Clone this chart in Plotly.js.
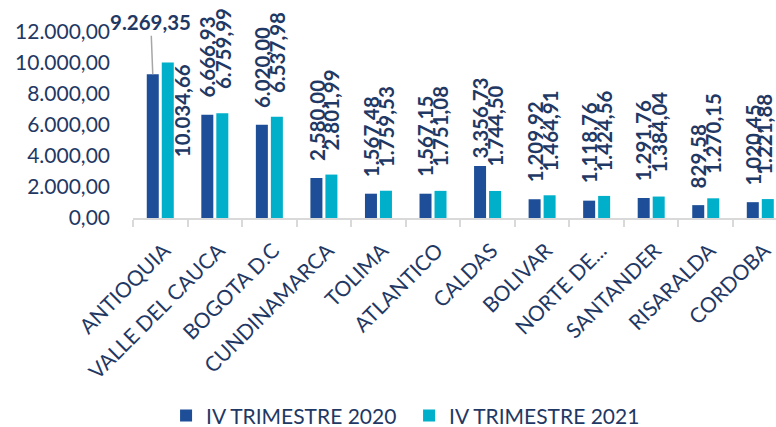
<!DOCTYPE html>
<html><head><meta charset="utf-8">
<script src="https://cdn.plot.ly/plotly-3.0.1.min.js"></script>
<style>html,body{margin:0;padding:0;background:#fff;}#chart{width:776px;height:427px;}</style>
</head><body><div id="chart"></div>
<script>
const categories = ["ANTIOQUIA","VALLE DEL CAUCA","BOGOTA D.C","CUNDINAMARCA","TOLIMA","ATLANTICO","CALDAS","BOLIVAR","NORTE DE...","SANTANDER","RISARALDA","CORDOBA"];
const values2020 = [9269.35,6666.93,6020.00,2580.00,1567.48,1567.15,3356.73,1209.92,1118.76,1291.76,829.58,1020.45];
const values2021 = [10034.66,6759.99,6537.98,2801.99,1759.53,1751.08,1744.50,1464.91,1424.56,1384.04,1270.15,1221.88];
const seriesNames = ["IV TRIMESTRE 2020","IV TRIMESTRE 2021"];
const yTickValues = [0,2000,4000,6000,8000,10000,12000];

const FONT = "Lato, 'Open Sans', sans-serif";
const TXT = "#1F3864";
const C2020 = "#1D4E97";
const C2021 = "#00AFC9";

function fmt(v){
  const p = v.toFixed(2).split(".");
  return p[0].replace(/\B(?=(\d{3})+(?!\d))/g, ".") + "," + p[1];
}

const traces = [
  {type:"bar", name:seriesNames[0], x:categories, y:values2020, marker:{color:C2020}},
  {type:"bar", name:seriesNames[1], x:categories, y:values2021, marker:{color:C2021}}
];

const labelFont = {family:FONT, size:20.5, color:TXT, weight:"bold"};
const annotations = [];
const last = categories.length - 1;
categories.forEach((c,i)=>{
  if(i===0){
    annotations.push({x:c, y:values2020[i], xref:"x", yref:"y", xshift:-7.5,
      text:fmt(values2020[i]), showarrow:true, arrowhead:0, arrowwidth:1.5, arrowcolor:"#A6A6A6",
      ax:-2, ay:-52, font:labelFont});
    annotations.push({x:c, y:values2021[i], xref:"x", yref:"y", xshift:22,
      text:fmt(values2021[i]), showarrow:false, textangle:-90, xanchor:"center", yanchor:"top", font:labelFont});
  } else {
    annotations.push({x:c, y:values2020[i], xref:"x", yref:"y", xshift:-7.5, yshift:(i===6?5:15),
      text:fmt(values2020[i]), showarrow:false, textangle:-90, xanchor:"center", yanchor:"bottom", font:labelFont});
    annotations.push({x:c, y:values2021[i], xref:"x", yref:"y", xshift:(i===last?3:7.5), yshift:22,
      text:fmt(values2021[i]), showarrow:false, textangle:-90, xanchor:"center", yanchor:"bottom", font:labelFont});
  }
});

const layout = {
  width:776, height:427,
  margin:{l:133, r:0, t:10, b:209, pad:0},
  paper_bgcolor:"#fff", plot_bgcolor:"#fff",
  separators:",.",
  font:{family:FONT, color:TXT, size:21},
  barmode:"group", bargap:0.45, bargroupgap:0.2,
  showlegend:true,
  legend:{orientation:"h", xref:"container", yref:"container", x:0.214, y:0.026, xanchor:"left", yanchor:"middle",
    entrywidth:198, entrywidthmode:"pixels",
    font:{family:FONT, size:21, color:TXT}, bgcolor:"rgba(0,0,0,0)"},
  xaxis:{type:"category", range:[-0.5, 11.288], showgrid:false, zeroline:false,
    showline:true, linecolor:"#D9D9D9", linewidth:2,
    ticks:"outside", tickson:"boundaries", ticklen:7, tickwidth:2, tickcolor:"#D9D9D9",
    tickangle:-45, ticklabelstandoff:10, ticklabelshift:4,
    tickfont:{family:FONT, size:21, color:TXT}, fixedrange:true},
  yaxis:{range:[0, 13419], tickvals:yTickValues, tickformat:",.2f", showgrid:false, zeroline:false, showline:false,
    ticks:"", ticklabelstandoff:22, tickfont:{family:FONT, size:21, color:TXT}, fixedrange:true},
  annotations:annotations,
  hovermode:false
};

Plotly.newPlot("chart", traces, layout, {displayModeBar:false, staticPlot:true});
</script>
</body></html>
